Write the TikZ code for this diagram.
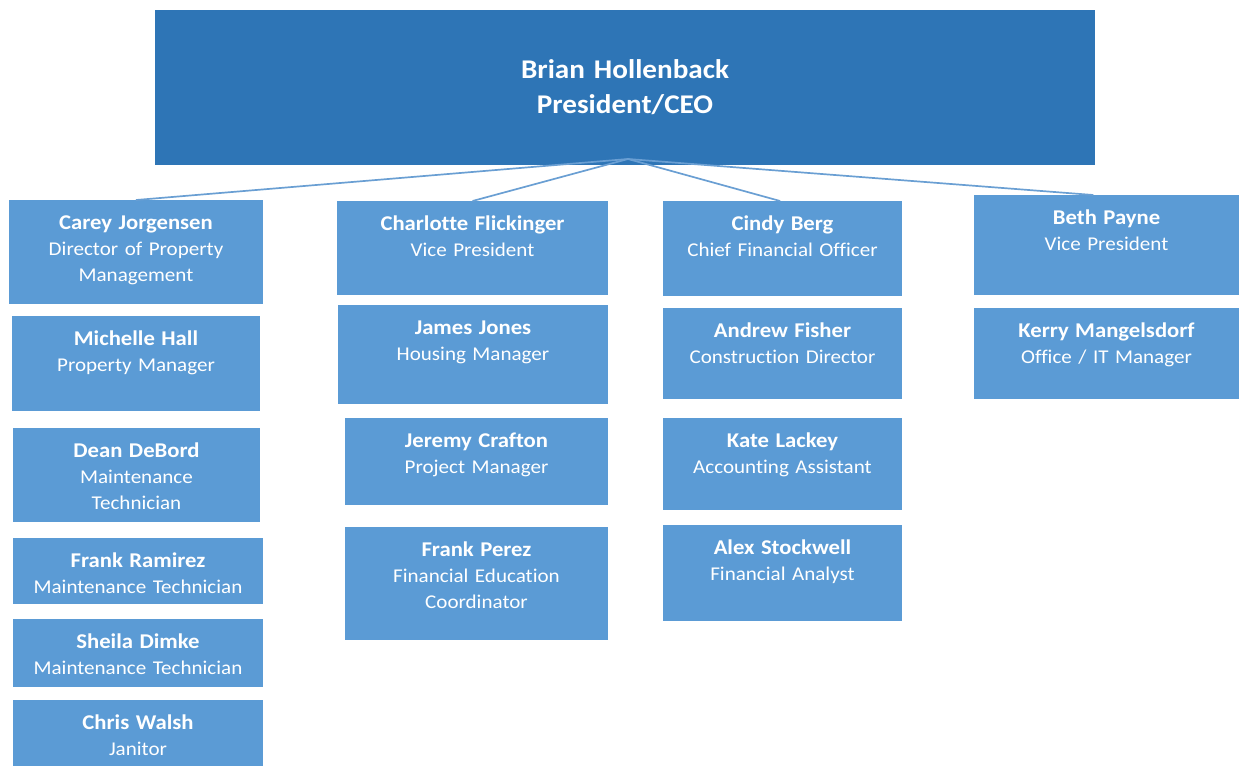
\documentclass[tikz,border=0pt]{standalone}
\usepackage{fontspec}
\setmainfont{Carlito}[FakeStretch=1.08, Ligatures=NoCommon]
\usetikzlibrary{calc}

\definecolor{ceoblue}{HTML}{2E75B6}
\definecolor{boxblue}{HTML}{5B9BD5}
\definecolor{linkblue}{HTML}{6A9FD3}

\tikzset{
  box/.style={fill=boxblue, draw=none, anchor=north west, inner sep=0pt, outer sep=0pt},
  ceobox/.style={box, fill=ceoblue},
  lbl/.style={text=white, align=center, inner sep=0pt, anchor=base, text width=270pt,
    font=\fontsize{19.5}{26}\selectfont},
  ceolbl/.style={text=white, align=center, inner sep=0pt, anchor=base, text width=500pt,
    font=\fontsize{27}{35}\selectfont\bfseries},
  link/.style={draw=linkblue, line width=1.7pt},
}

% #1 name, #2-#5 left/top/right/bottom, #6 person, #7 title
\newcommand\orgbox[7]{%
  \node[box, minimum width={#4pt-#2pt}, minimum height={#5pt-#3pt}] (#1) at (#2,#3) {};
  \node[lbl] (#1-t) at ({(#2+#4)/2},{#3+29}) {{\fontsize{21}{26}\selectfont\bfseries #6}\\#7};
}

\begin{document}
\begin{tikzpicture}[x=1pt, y=-1pt]
  \useasboundingbox (0,0) rectangle (1239,766);

  % chief executive
  \node[ceobox, minimum width=940pt, minimum height=155pt] (ceo) at (155,10) {};
  \node[ceolbl] (ceo-t) at (625,78) {Brian Hollenback\\President/CEO};
  \coordinate (hub) at (628,159);

  % property management column
  \orgbox{carey}{9}{200}{263}{304}{Carey Jorgensen}{Director of Property\\Management}
  \orgbox{michelle}{12}{316}{260}{411}{Michelle Hall}{Property Manager}
  \orgbox{dean}{13}{428}{260}{522}{Dean DeBord}{Maintenance\\Technician}
  \orgbox{ramirez}{13}{538}{263}{604}{Frank Ramirez}{Maintenance Technician}
  \orgbox{sheila}{13}{619}{263}{687}{Sheila Dimke}{Maintenance Technician}
  \orgbox{chris}{13}{700}{263}{766}{Chris Walsh}{Janitor}

  % housing column
  \orgbox{charlotte}{337}{201}{608}{295}{Charlotte Flickinger}{Vice President}
  \orgbox{james}{338}{305}{608}{404}{James Jones}{Housing Manager}
  \orgbox{jeremy}{345}{418}{608}{505}{Jeremy Crafton}{Project Manager}
  \orgbox{perez}{345}{527}{608}{640}{Frank Perez}{Financial Education\\Coordinator}

  % finance column
  \orgbox{cindy}{663}{201}{902}{296}{Cindy Berg}{Chief Financial Officer}
  \orgbox{andrew}{663}{308}{902}{399}{Andrew Fisher}{Construction Director}
  \orgbox{kate}{663}{418}{902}{510}{Kate Lackey}{Accounting Assistant}
  \orgbox{alex}{663}{525}{902}{621}{Alex Stockwell}{Financial Analyst}

  % office column
  \orgbox{beth}{974}{195}{1239}{295}{Beth Payne}{Vice President}
  \orgbox{kerry}{974}{308}{1239}{399}{Kerry Mangelsdorf}{Office / IT Manager}

  % reporting lines
  \draw[link] (hub) -- (carey.north);
  \draw[link] (hub) -- (charlotte.north);
  \draw[link] (hub) -- ($(cindy.north west)!0.49!(cindy.north east)$);
  \draw[link] (hub) -- ($(beth.north west)!0.45!(beth.north east)$);
\end{tikzpicture}
\end{document}
